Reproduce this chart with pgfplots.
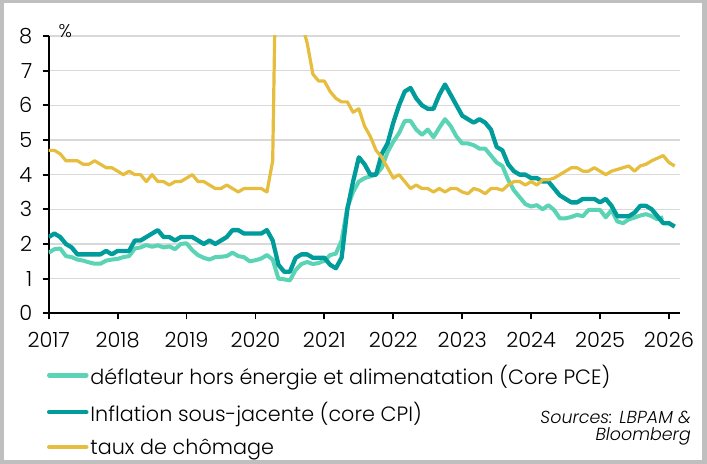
\documentclass[border=0pt]{standalone}
\usepackage{fontspec}
\setmainfont{Poppins}[UprightFont={* Light}, ItalicFont={* Light Italic}, BoldFont={* Medium}]
\usepackage{pgfplots}
\usepackage{pgfplotstable}
\pgfplotsset{compat=1.18}
\definecolor{pce}{HTML}{5BD3B5}
\definecolor{cpi}{HTML}{009B9B}
\definecolor{unemp}{HTML}{E6BD3C}
\definecolor{gridc}{HTML}{D9D9D9}
\definecolor{framec}{HTML}{BFBFBF}

% k = months since Dec 2016 (plotted at 2017 + k/12)
\pgfplotstableread{
k pce cpi u
0 1.75 2.2 4.7
1 1.85 2.3 4.7
2 1.87 2.2 4.6
3 1.65 2.0 4.4
4 1.62 1.9 4.4
5 1.55 1.7 4.4
6 1.52 1.7 4.3
7 1.47 1.7 4.3
8 1.43 1.7 4.4
9 1.43 1.7 4.3
10 1.52 1.8 4.2
11 1.55 1.7 4.2
12 1.57 1.8 4.1
13 1.62 1.8 4.0
14 1.65 1.8 4.1
15 1.87 2.1 4.0
16 1.90 2.1 4.0
17 1.97 2.2 3.8
18 1.92 2.3 4.0
19 1.96 2.4 3.8
20 1.90 2.2 3.8
21 1.93 2.2 3.7
22 1.85 2.1 3.8
23 2.00 2.2 3.8
24 2.02 2.2 3.9
25 1.82 2.2 4.0
26 1.68 2.1 3.8
27 1.60 2.0 3.8
28 1.55 2.1 3.7
29 1.62 2.0 3.6
30 1.63 2.1 3.6
31 1.65 2.2 3.7
32 1.75 2.4 3.6
33 1.65 2.4 3.5
34 1.62 2.3 3.6
35 1.50 2.3 3.6
36 1.53 2.3 3.6
37 1.58 2.3 3.6
38 1.68 2.4 3.5
39 1.55 2.1 4.4
40 1.00 1.4 14.8
41 0.98 1.2 13.2
42 0.95 1.2 11.0
43 1.25 1.6 10.2
44 1.42 1.7 8.4
45 1.48 1.7 7.8
46 1.42 1.6 6.9
47 1.45 1.6 6.7
48 1.52 1.6 6.7
49 1.68 1.4 6.4
50 1.72 1.3 6.2
51 2.10 1.6 6.1
52 3.05 3.0 6.1
53 3.50 3.8 5.8
54 3.80 4.5 5.9
55 3.90 4.3 5.4
56 3.95 4.0 5.1
57 4.00 4.0 4.7
58 4.20 4.6 4.5
59 4.65 4.9 4.2
60 4.95 5.5 3.9
61 5.20 6.0 4.0
62 5.55 6.4 3.8
63 5.55 6.5 3.6
64 5.30 6.2 3.7
65 5.15 6.0 3.6
66 5.30 5.9 3.6
67 5.08 5.9 3.5
68 5.35 6.3 3.6
69 5.60 6.6 3.5
70 5.40 6.3 3.6
71 5.10 6.0 3.6
72 4.90 5.7 3.5
73 4.90 5.6 3.45
74 4.85 5.5 3.6
75 4.75 5.6 3.55
76 4.75 5.5 3.45
77 4.55 5.3 3.6
78 4.35 4.8 3.6
79 4.25 4.7 3.55
80 3.85 4.3 3.7
81 3.55 4.1 3.8
82 3.35 4.0 3.8
83 3.15 4.0 3.7
84 3.08 3.9 3.8
85 3.12 3.9 3.7
86 3.00 3.8 3.85
87 3.12 3.8 3.85
88 2.98 3.6 3.9
89 2.74 3.4 4.0
90 2.74 3.3 4.1
91 2.78 3.2 4.2
92 2.84 3.2 4.2
93 2.80 3.3 4.1
94 2.98 3.3 4.1
95 2.98 3.3 4.2
96 2.98 3.2 4.1
97 2.77 3.3 4.0
98 2.98 3.1 4.1
99 2.65 2.8 4.15
100 2.60 2.8 4.2
101 2.71 2.8 4.25
102 2.76 2.9 4.1
103 2.82 3.1 4.25
104 2.86 3.1 4.3
105 2.80 3.0 4.4
106 2.71 nan nan
107 2.77 2.6 4.55
108 nan 2.6 4.35
109 nan 2.5 4.25
}\data

\begin{document}
\begin{tikzpicture}[x=1bp,y=1bp]
\useasboundingbox (0,0) rectangle (707,464);
\fill[white] (0,0) rectangle (707,464);
\draw[framec, line width=3.5bp] (1.75,1.75) rectangle (705.25,462.25);
\fill[framec] (701.5,0) rectangle (707,464);
\begin{axis}[
  at={(48.7bp,150.7bp)}, anchor=south west,
  scale only axis, width=631.3bp, height=277.3bp,
  xmin=2017, xmax=2026.16, ymin=0, ymax=8,
  axis x line=bottom, axis y line=left,
  axis line style={line width=2.4bp, black, -},
  xtick={2017,2018,2019,2020,2021,2022,2023,2024,2025,2026},
  xticklabels={2017,2018,2019,2020,2021,2022,2023,2024,2025,2026},
  ytick={0,1,2,3,4,5,6,7,8},
  tick align=outside, major tick length=6bp,
  tick style={line width=1.8bp, black},
  ymajorgrids, grid style={line width=1.6bp, gridc},
  ticklabel style={font=\fontsize{21}{24}\selectfont},
  /pgf/number format/assume math mode=true,
  xticklabel style={yshift=-9bp},
  yticklabel style={xshift=-7bp},
  legend style={at={(-0.003,-0.178)}, anchor=north west, draw=none, fill=none,
    inner sep=0pt, row sep=12bp, font=\fontsize{20.8}{24}\selectfont,
    /tikz/every even column/.append style={column sep=1bp}},
  legend cell align=left,
  legend image code/.code={\draw[#1, line width=4.5bp, line cap=round] (2bp,0bp) -- (39bp,0bp);},
]
\addplot[pce, line width=4bp, line join=round] table[x expr=2017+\thisrow{k}/12, y=pce] {\data};
\addlegendentry{déflateur hors énergie et alimenatation (Core PCE)}
\addplot[cpi, line width=4.3bp, line join=round] table[x expr=2017+\thisrow{k}/12, y=cpi] {\data};
\addlegendentry{Inflation sous-jacente (core CPI)}
\addplot[unemp, line width=3.2bp, line join=round] table[x expr=2017+\thisrow{k}/12, y=u] {\data};
\addlegendentry{taux de chômage}
\end{axis}
\node[anchor=base west, inner sep=0pt, font=\fontsize{18.5}{20}\selectfont] at (58.5,426) {\%};
\node[anchor=east, align=right, inner sep=0pt, font=\itshape\fontsize{17.5}{20}\selectfont] at (691,36) {Sources: LBPAM \&\\[-3bp]Bloomberg};
\end{tikzpicture}
\end{document}
